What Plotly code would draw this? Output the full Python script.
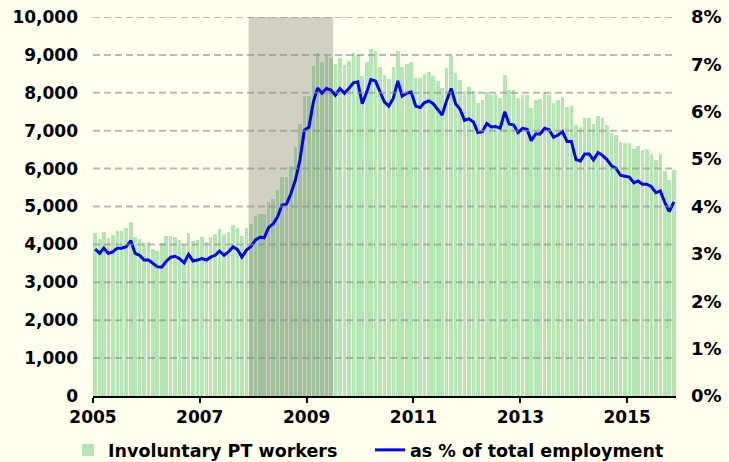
import pandas as pd
import plotly.graph_objects as go

# ------------------------------------------------------------
# Involuntary part-time workers (thousands) and share of
# total employment, monthly Jan 2005 - Nov 2015
# ------------------------------------------------------------
start_month = "2005-01-01"

pt_workers = [
    4290, 4140, 4320, 4180, 4250, 4350, 4350, 4420, 4600, 4200, 4140, 4050,
    4070, 3880, 3830, 4030, 4230, 4220, 4190, 4120, 3980, 4290, 4100, 4120,
    4190, 4070, 4190, 4270, 4400, 4270, 4340, 4510, 4420, 4220, 4420, 4540,
    4750, 4800, 4800, 5130, 5210, 5440, 5790, 5780, 6080, 6560, 7180, 7920,
    7920, 8710, 9040, 8820, 8970, 8930, 8760, 8910, 8730, 8850, 9040, 9000,
    8450, 8800, 9150, 9090, 8690, 8470, 8360, 8670, 9110, 8690, 8760, 8800,
    8400, 8400, 8500, 8560, 8440, 8310, 8120, 8650, 8970, 8530, 8340, 8060,
    8160, 8060, 7720, 7810, 8030, 7940, 7980, 7850, 8470, 8070, 8070, 7850,
    7940, 7940, 7590, 7810, 7830, 8030, 7940, 7720, 7810, 7890, 7630, 7650,
    7150, 7100, 7330, 7330, 7190, 7390, 7330, 7150, 6930, 6890, 6710, 6680,
    6680, 6530, 6600, 6490, 6530, 6390, 6230, 6390, 5940, 5700, 5960,
]

pct_employment = [
    3.10, 3.01, 3.12, 3.01, 3.04, 3.12, 3.12, 3.15, 3.28, 3.01, 2.97, 2.87,
    2.87, 2.80, 2.73, 2.72, 2.84, 2.93, 2.95, 2.90, 2.81, 2.99, 2.85, 2.87,
    2.90, 2.87, 2.93, 2.97, 3.06, 2.97, 3.04, 3.15, 3.09, 2.93, 3.08, 3.15,
    3.29, 3.35, 3.34, 3.56, 3.63, 3.78, 4.03, 4.05, 4.28, 4.56, 4.98, 5.61,
    5.67, 6.21, 6.50, 6.39, 6.49, 6.46, 6.35, 6.49, 6.39, 6.49, 6.61, 6.63,
    6.17, 6.42, 6.68, 6.65, 6.43, 6.21, 6.12, 6.28, 6.65, 6.33, 6.39, 6.42,
    6.12, 6.09, 6.19, 6.23, 6.17, 6.05, 5.93, 6.24, 6.49, 6.17, 6.05, 5.82,
    5.85, 5.78, 5.56, 5.58, 5.75, 5.68, 5.69, 5.65, 6.00, 5.74, 5.72, 5.56,
    5.65, 5.63, 5.39, 5.53, 5.53, 5.65, 5.62, 5.46, 5.51, 5.58, 5.37, 5.37,
    4.99, 4.96, 5.11, 5.11, 4.98, 5.14, 5.08, 4.99, 4.86, 4.81, 4.66, 4.64,
    4.62, 4.50, 4.54, 4.47, 4.47, 4.42, 4.29, 4.33, 4.08, 3.89, 4.10,
]

recession_start = "2007-12-01"
recession_end = "2009-07-01"

left_ticks = [0, 1000, 2000, 3000, 4000, 5000, 6000, 7000, 8000, 9000, 10000]
year_ticks = ["2005-01-01", "2007-01-01", "2009-01-01",
              "2011-01-01", "2013-01-01", "2015-01-01"]

# bars sit in the middle of each month
months = pd.date_range(start_month, periods=len(pt_workers), freq="MS") + pd.Timedelta(days=15)
bar_width_ms = 0.8 * 30.4 * 24 * 3600 * 1000

BG = "#ffffee"
FONT = dict(family="DejaVu Sans", size=16, color="black", weight="bold")
LEGEND_FONT = dict(FONT, size=17.5)

fig = go.Figure()

fig.add_trace(go.Bar(
    x=months, y=pt_workers,
    width=bar_width_ms,
    marker_color="#b3e6b3",
    marker_line_width=0,
    name="Involuntary PT workers",
    legend="legend",
))

# recession shading (over the bars, under the line)
fig.add_trace(go.Scatter(
    x=[recession_start, recession_start, recession_end, recession_end, recession_start],
    y=[left_ticks[0], left_ticks[-1], left_ticks[-1], left_ticks[0], left_ticks[0]],
    fill="toself",
    fillcolor="rgba(115,115,105,0.33)",
    line_width=0,
    mode="lines",
    hoverinfo="skip",
    showlegend=False,
))

fig.add_trace(go.Scatter(
    x=months, y=pct_employment,
    yaxis="y2",
    mode="lines",
    line=dict(color="#0000ff", width=3),
    name="as % of total employment",
    legend="legend2",
))

# dashed gridlines drawn above the bars
for v in left_ticks[1:]:
    fig.add_shape(
        type="line", xref="paper", x0=0, x1=1, yref="y", y0=v, y1=v,
        line=dict(color="rgba(140,140,140,0.6)", width=2, dash="7px,4px"),
        layer="above",
    )

fig.update_layout(
    width=729, height=462,
    margin=dict(l=93, r=53, t=17, b=66, autoexpand=False),
    plot_bgcolor=BG,
    paper_bgcolor=BG,
    font=FONT,
    showlegend=True,
    legend=dict(
        orientation="h",
        xref="container", yref="container",
        x=68 / 729, y=12 / 462, xanchor="left", yanchor="middle",
        font=LEGEND_FONT, bgcolor="rgba(0,0,0,0)",
        itemwidth=30,
    ),
    legend2=dict(
        orientation="h",
        xref="container", yref="container",
        x=370 / 729, y=12 / 462, xanchor="left", yanchor="middle",
        font=LEGEND_FONT, bgcolor="rgba(0,0,0,0)",
        itemwidth=30,
    ),
    xaxis=dict(
        type="date",
        range=["2005-01-01", "2015-12-01"],
        tickvals=year_ticks,
        tickformat="%Y",
        showgrid=False,
        showline=True, linecolor="black", linewidth=2,
        ticks="outside", ticklen=5, tickwidth=2, tickcolor="black",
        tickfont=dict(FONT, size=17),
        automargin=False,
    ),
    yaxis=dict(
        range=[0, 10000],
        tickvals=left_ticks,
        tickformat=",",
        showgrid=False, zeroline=False, showline=False,
        tickfont=dict(FONT, size=17),
        ticklabelstandoff=14,
        automargin=False,
    ),
    yaxis2=dict(
        range=[0, 8],
        dtick=1,
        ticksuffix="%",
        overlaying="y", side="right",
        showgrid=False, zeroline=False, showline=False,
        tickfont=dict(FONT, size=18),
        ticklabelstandoff=14,
        automargin=False,
    ),
    bargap=0,
)

# no default page margin so the figure fills the window
fig.write_html(
    "out.html",
    config={"displayModeBar": False},
    post_script="document.body.style.margin='0';document.body.style.background='#ffffee';",
)
